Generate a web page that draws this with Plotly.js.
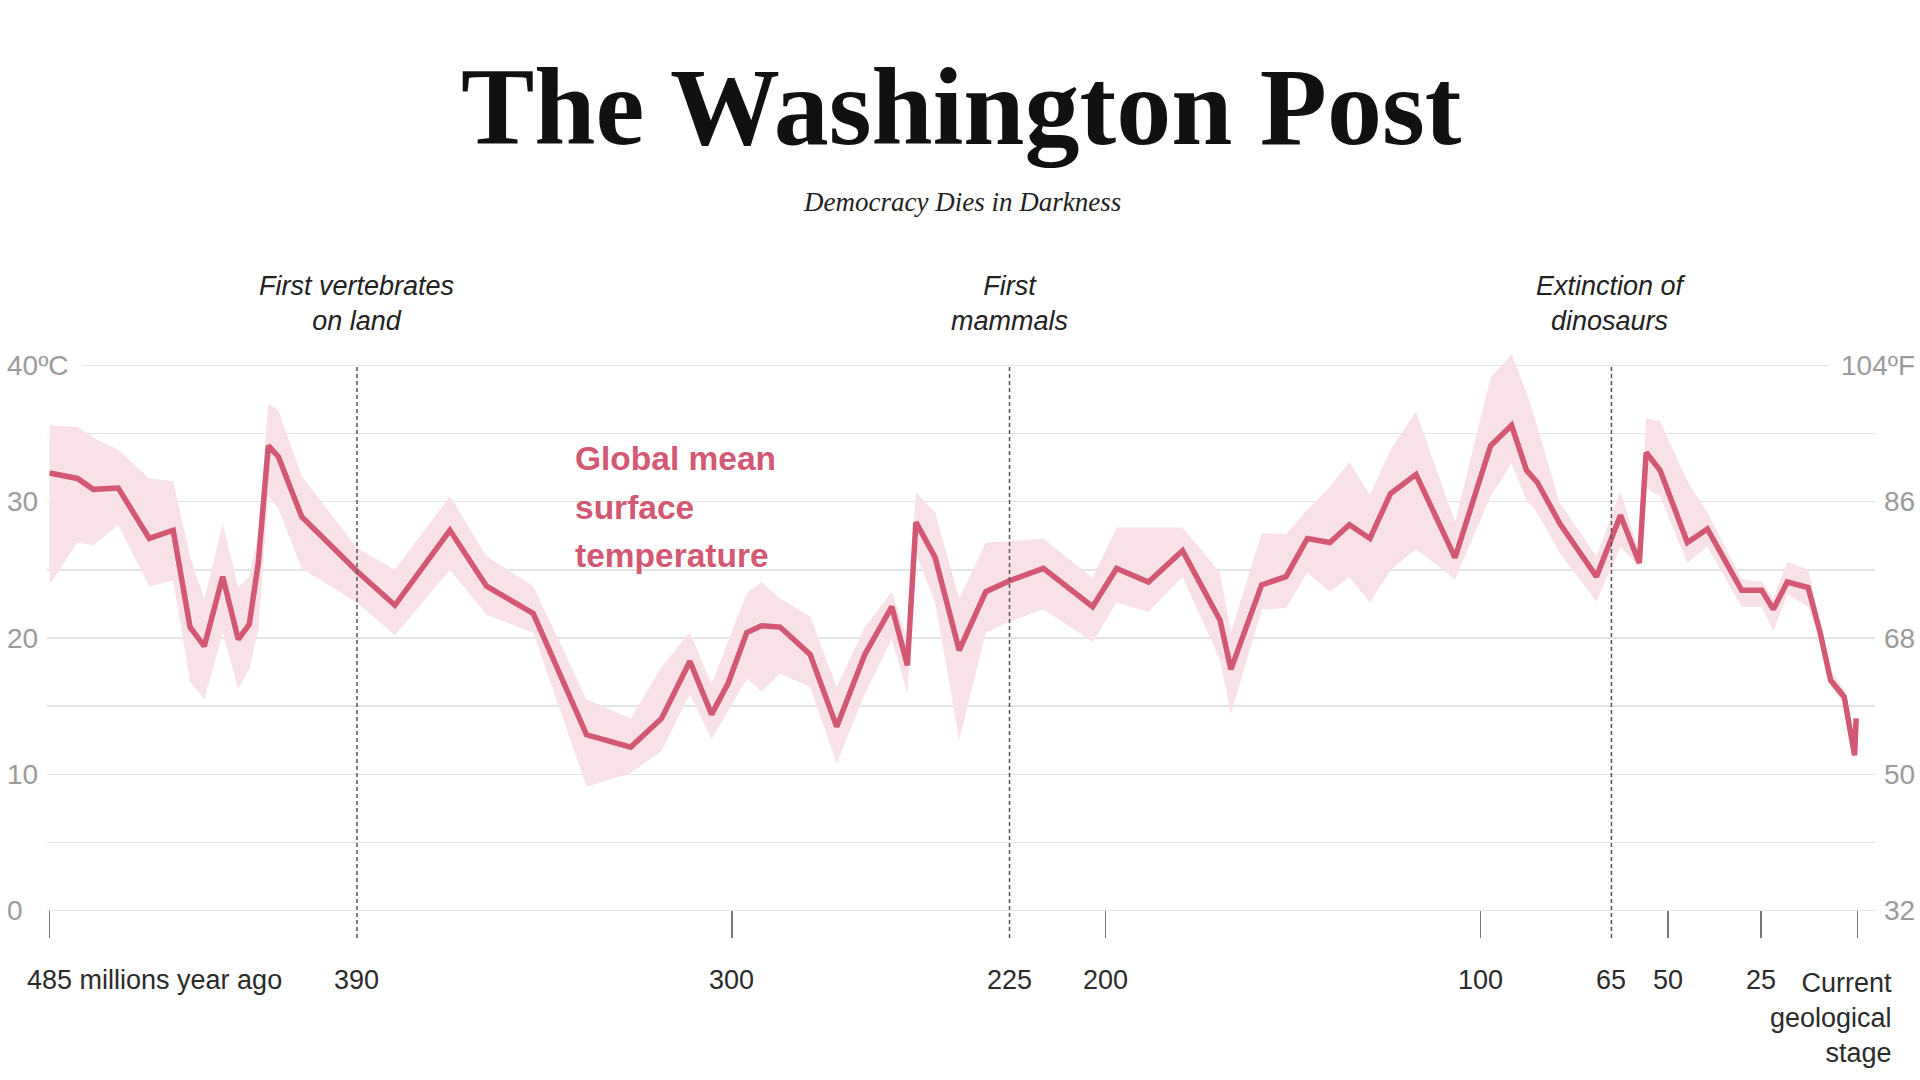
<!DOCTYPE html>
<html>
<head>
<meta charset="utf-8">
<script src="https://cdn.plot.ly/plotly-3.0.1.min.js"></script>
<style>
  html, body { margin: 0; padding: 0; background: #fff; }
  #chart { width: 1920px; height: 1080px; }
</style>
</head>
<body>
<div id="chart"></div>
<script>
// ---- Data (ages in millions of years ago, temperatures in °C) ----
const ages = [485, 476.4, 471.5, 463.8, 454.2, 446.8, 441.6, 437.2, 431.5, 426.7,
  423.3, 420.5, 417.4, 414.3, 407.1, 390, 380.9, 367.7, 358.9, 347.7,
  334.9, 324.3, 316.9, 310.1, 304.9, 300.9, 296.0, 292.0, 287.0, 278.9,
  271.7, 264.1, 256.8, 252.6, 250.3, 245.1, 238.6, 231.4, 225, 216.2,
  203.4, 197.1, 188.6, 179.5, 169.5, 166.6, 158.4, 151.9, 146.2, 140.2,
  135.0, 129.5, 124.0, 117.2, 106.8, 97.3, 91.7, 87.7, 84.8, 78.8,
  69.0, 62.6, 57.6, 55.8, 52.1, 44.8, 39.4, 30.2, 24.8, 21.8,
  18.2, 12.8, 9.7, 7.0, 3.5, 0.8, 0.4];

const meanTemp = [32.1, 31.7, 30.9, 31.0, 27.3, 27.9, 20.8, 19.4, 24.5, 19.9,
  21.0, 25.5, 34.1, 33.3, 28.9, 24.9, 22.4, 27.9, 23.8, 21.8,
  12.9, 12.0, 14.1, 18.3, 14.4, 16.7, 20.4, 20.9, 20.8, 18.8,
  13.5, 18.8, 22.3, 18.0, 28.5, 25.9, 19.1, 23.4, 24.2, 25.1,
  22.3, 25.1, 24.1, 26.4, 21.3, 17.7, 23.9, 24.5, 27.3, 27.0,
  28.3, 27.3, 30.6, 32.0, 25.9, 34.1, 35.6, 32.3, 31.4, 28.4,
  24.5, 29.0, 25.5, 33.6, 32.3, 27.0, 28.0, 23.5, 23.5, 22.1,
  24.1, 23.7, 20.4, 16.9, 15.7, 11.4, 14.1];

const upperTemp = [35.6, 35.5, 34.7, 33.8, 31.7, 31.5, 26.0, 22.8, 28.4, 23.7,
  24.5, 27.5, 37.2, 36.7, 31.9, 26.6, 25.0, 30.4, 26.0, 23.8,
  15.5, 14.1, 17.9, 20.4, 16.6, 19.8, 23.3, 24.1, 22.9, 21.6,
  16.4, 20.8, 23.4, 19.9, 30.7, 29.2, 22.9, 27.0, 27.1, 27.3,
  24.4, 28.1, 28.1, 28.1, 24.8, 20.4, 27.7, 27.6, 29.4, 31.1,
  32.9, 30.5, 33.8, 36.6, 28.5, 39.1, 40.8, 38.0, 35.5, 29.9,
  26.0, 30.7, 26.2, 36.1, 35.9, 31.5, 29.2, 24.3, 24.1, 22.9,
  25.6, 25.0, 21.1, 17.7, 16.2, 11.7, 14.3];

const lowerTemp = [23.9, 27.0, 26.8, 28.3, 23.8, 24.2, 16.8, 15.5, 20.4, 16.3,
  17.7, 20.6, 30.4, 29.5, 25.1, 22.6, 20.2, 25.0, 21.7, 20.4,
  9.1, 10.1, 11.7, 15.9, 12.6, 14.7, 17.0, 16.1, 17.4, 16.4,
  10.8, 15.9, 19.9, 15.9, 26.2, 22.6, 12.5, 20.4, 21.2, 22.1,
  19.7, 22.6, 21.9, 24.5, 18.4, 14.4, 22.1, 22.2, 24.8, 23.4,
  24.5, 22.6, 25.0, 26.5, 24.3, 30.4, 32.8, 30.1, 29.2, 26.2,
  22.7, 26.7, 25.2, 31.0, 30.4, 25.5, 26.7, 22.3, 22.3, 20.5,
  23.2, 22.3, 19.9, 16.4, 15.2, 11.0, 13.9];

// Labelled ages on the time axis
const tickAges = [485, 390, 300, 225, 200, 100, 65, 50, 25, 0];
const tickLabels = ['485 millions year ago', '390', '300', '225', '200', '100', '65', '50', '25', 'Current<br>geological<br>stage'];

// Events marked with dashed lines
const eventAges = [390, 225, 65];
const eventLabels = ['First vertebrates<br>on land', 'First<br>mammals', 'Extinction of<br>dinosaurs'];

// Temperature axis labels
const celsiusTicks = [0, 10, 20, 30, 40];
const celsiusLabels = ['0', '10', '20', '30', '40ºC'];
const fahrenheitLabels = ['32', '50', '68', '86', '104ºF'];

const seriesLabel = ['Global mean', 'surface', 'temperature'];

// ---- Non-linear time scale used by the original graphic ----
const scaleAges = [485, 390, 300, 225, 200, 100, 65, 50, 25, 0];
const scaleFrac = [0, 0.1700, 0.3774, 0.5309, 0.5841, 0.7914, 0.8638, 0.8951, 0.9465, 1];
function pos(a) {
  for (let i = 0; i < scaleAges.length - 1; i++) {
    const a0 = scaleAges[i], a1 = scaleAges[i + 1];
    if (a <= a0 && a >= a1) {
      return scaleFrac[i] + (a0 - a) / (a0 - a1) * (scaleFrac[i + 1] - scaleFrac[i]);
    }
  }
  return a > scaleAges[0] ? scaleFrac[0] : scaleFrac[scaleFrac.length - 1];
}
const xs = ages.map(pos);

const LINE = '#d25874';
const BAND = '#f8e1e7';
const SANS = '"Liberation Sans", Arial, sans-serif';
const SERIF = '"Liberation Serif", "Times New Roman", serif';

const traces = [
  { x: xs, y: lowerTemp, type: 'scatter', mode: 'lines', line: { width: 0, color: BAND }, hoverinfo: 'skip', showlegend: false },
  { x: xs, y: upperTemp, type: 'scatter', mode: 'lines', fill: 'tonexty', fillcolor: BAND, line: { width: 0, color: BAND }, hoverinfo: 'skip', showlegend: false },
  { x: xs, y: meanTemp, type: 'scatter', mode: 'lines', line: { width: 5.5, color: LINE }, showlegend: false }
];

const solidTickAges = tickAges.filter(a => eventAges.indexOf(a) < 0);

const shapes = eventAges.map(a => ({
  type: 'line', xref: 'x', yref: 'y', x0: pos(a), x1: pos(a), y0: -2, y1: 40,
  line: { color: '#555', width: 1.5, dash: '4px,3px' }, layer: 'above'
}));

const annotations = [];
// Masthead
annotations.push({ xref: 'paper', yref: 'paper', x: 0.5005, y: 1.385, xanchor: 'center', yanchor: 'middle',
  text: 'The Washington Post', showarrow: false, font: { family: SERIF, size: 110, color: '#111', weight: 700 } });
annotations.push({ xref: 'paper', yref: 'paper', x: 0.5005, y: 1.2267, xanchor: 'center', yanchor: 'middle',
  text: 'Democracy Dies in Darkness', showarrow: false, font: { family: SERIF, size: 27, color: '#222', style: 'italic' } });

// Event labels
eventAges.forEach((a, i) => annotations.push({
  xref: 'x', yref: 'paper', x: pos(a), y: 1.057, xanchor: 'center', yanchor: 'middle', align: 'center',
  text: eventLabels[i], showarrow: false, font: { family: SANS, size: 27, color: '#222', style: 'italic' }
}));

// Series label
const seriesY = [0.8, 0.7183, 0.6367];
seriesLabel.forEach((t, i) => annotations.push({
  xref: 'paper', yref: 'paper', x: 0.2877, y: seriesY[i], xanchor: 'left', yanchor: 'middle',
  text: t, showarrow: false, font: { family: SANS, size: 33.5, color: LINE, weight: 700 }
}));

// Time axis labels
tickAges.forEach((a, i) => {
  if (i === 0) {
    annotations.push({ xref: 'paper', yref: 'paper', x: -0.0123, y: -0.07, xanchor: 'left', yanchor: 'middle',
      text: tickLabels[i], showarrow: false, font: { family: SANS, size: 27, color: '#2b2b2b' } });
  } else if (i === tickAges.length - 1) {
    annotations.push({ xref: 'paper', yref: 'paper', x: 1.0104, y: -0.1333, xanchor: 'right', yanchor: 'middle', align: 'right',
      text: tickLabels[i], showarrow: false, font: { family: SANS, size: 27, color: '#2b2b2b' } });
  } else {
    annotations.push({ xref: 'x', yref: 'paper', x: pos(a), y: -0.07, xanchor: 'center', yanchor: 'middle',
      text: tickLabels[i], showarrow: false, font: { family: SANS, size: 27, color: '#2b2b2b' } });
  }
});

// Temperature labels (both scales)
celsiusTicks.forEach((v, i) => {
  const top = i === celsiusTicks.length - 1;
  const pad = top ? 12 : 1;
  annotations.push({ xref: 'paper', yref: 'y', x: -0.0224, y: v, xanchor: 'left', yanchor: 'middle', xshift: -pad,
    text: celsiusLabels[i], showarrow: false, font: { family: SANS, size: 28, color: '#9b9b9b' },
    bgcolor: top ? '#ffffff' : 'rgba(0,0,0,0)', borderpad: pad });
  annotations.push({ xref: 'paper', yref: 'y', x: 1.0224, y: v, xanchor: 'right', yanchor: 'middle', xshift: pad,
    text: fahrenheitLabels[i], showarrow: false, font: { family: SANS, size: 28, color: '#9b9b9b' },
    bgcolor: top ? '#ffffff' : 'rgba(0,0,0,0)', borderpad: pad });
});

const layout = {
  width: 1920, height: 1080,
  paper_bgcolor: '#fff', plot_bgcolor: '#fff',
  margin: { l: 47, r: 45, t: 338, b: 142, pad: 0 },
  showlegend: false,
  xaxis: {
    range: [-0.00144, 1.00957], showgrid: false, zeroline: false, showline: false,
    tickmode: 'array', tickvals: solidTickAges.map(pos), ticks: 'inside', ticklen: 27,
    tickwidth: 1.5, tickcolor: '#777', showticklabels: false, fixedrange: true
  },
  yaxis: {
    range: [-2, 42], tickmode: 'array', tickvals: [0, 5, 10, 15, 20, 25, 30, 35, 40],
    showgrid: true, gridcolor: '#e4e4e4', gridwidth: 1.5, zeroline: false, showline: false,
    showticklabels: false, ticks: '', fixedrange: true
  },
  shapes: shapes,
  annotations: annotations
};

Plotly.newPlot('chart', traces, layout, { staticPlot: true, displayModeBar: false });
</script>
</body>
</html>
